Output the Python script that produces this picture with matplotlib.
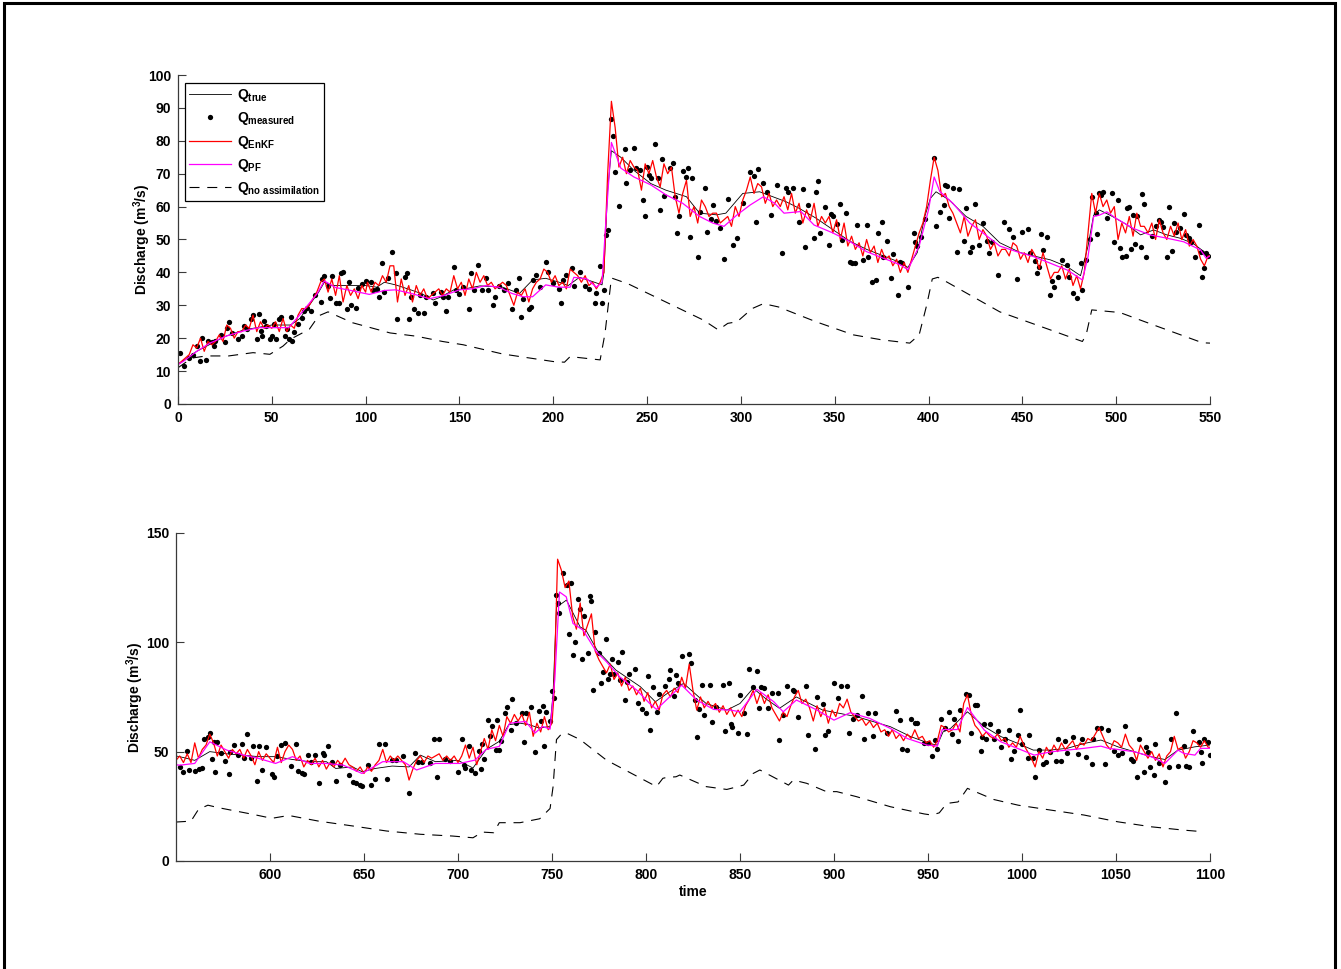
import numpy as np
import matplotlib
matplotlib.use('Agg')
import matplotlib.pyplot as plt
from matplotlib.patches import Rectangle

plt.rcParams['font.family'] = ['Liberation Sans', 'DejaVu Sans']
plt.rcParams['font.weight'] = 'bold'
plt.rcParams['axes.labelweight'] = 'bold'
plt.rcParams['mathtext.fontset'] = 'custom'
plt.rcParams['mathtext.rm'] = 'Liberation Sans:bold'
plt.rcParams['mathtext.it'] = 'Liberation Sans:bold'
plt.rcParams['mathtext.bf'] = 'Liberation Sans:bold'
plt.rcParams['mathtext.default'] = 'rm'

# ---------------- top panel data (time 0-550) ----------------
true_top = [(0,12),(5,14),(10,16),(15,17.5),(20,19),(25,20.5),(30,21.5),(35,22.5),(40,23),(45,23.5),
            (50,24),(55,24),(60,24),(65,26),(70,30),(75,34),(78,37),(82,36),(90,36),(100,36),
            (106,35.5),(110,37),(116,36.2),(124,34.7),(130,33.5),(136,31.6),(140,32.5),(147,34.7),
            (153,35),(161,35.9),(173,35.5),(182,33.6),(189,37.7),(196,38.2),(205,36.7),(208,36),
            (214,38.5),(221,37.2),(226,36.2),(227,40),(229,65),(231,77),(236,75),(243,71),(252,67),
            (260,65),(271,63),(278,58),(287,57.5),(292,58),(301,64),(310,64.5),(317,63),(324,61.5),
            (331,59.5),(340,56.5),(349,53),(358,49.5),(367,47),(376,45),(385,43),(389,41.5),(394,46),
            (398,57),(401,62.5),(404,64.5),(411,62),(420,57),(429,54),(438,49),(449,46),(456,45),
            (465,43.8),(474,41.7),(481,39),(485,48),(488,57.4),(491,59),(498,57),(506,54.4),
            (513,51.4),(520,52.9),(527,51.4),(534,50.4),(541,48.8),(548,45.8),(550,45)]

pf_top = [(0,12),(3,13),(10,16),(17,18.5),(26,20.7),(35,22.2),(43,23.2),(52,23.2),(59,23.2),(66,27.8),
          (74,33.4),(78,37.4),(84,35.4),(93,34.4),(102,33.3),(110,34.5),(116,34.7),(125,33.5),
          (134,32),(142,33),(150,34.7),(157,35),(164,36),(171,35.5),(178,33.6),(184,32.6),(189,32.6),
          (196,36.2),(203,35.5),(209,35.5),(211,38.5),(218,38),(223,35.5),(226,37),(228,55),
          (231,79.5),(236,71.7),(243,69),(252,66.6),(260,63.6),(269,61),(278,57),(285,55),(291,54),
          (298,57.5),(305,60.5),(312,63),(318,61),(323,58),(332,58.5),(339,54.4),(349,52),(358,49.4),
          (367,46.3),(376,44.3),(385,42.3),(389,40.8),(395,48),(400,59),(403,69),(406,64.6),(413,61),
          (422,55),(429,52),(438,48),(447,46.3),(456,44.8),(464,43),(474,40.7),(482,37.7),(485,44.8),
          (488,57),(491,57.4),(495,58.4),(500,56.4),(509,53.4),(518,51.4),(527,50.4),(536,49.3),
          (545,46.8),(548,44.3),(550,45)]

noassim_top = [(0,11),(4,12.6),(8,14),(15,14.6),(27,14.6),(40,15.6),(49,15.1),(56,17.6),(60,19.7),
               (70,22.7),(75,26.8),(80,28),(93,24.7),(113,21.6),(127,20.6),(141,19),(152,18),
               (173,15.2),(200,12.9),(206,12.7),(209,14.4),(225,13.4),(227.6,21.5),(231,38.3),
               (240,36.5),(260,31),(280,25.5),(288,22.5),(293,24.5),(298,25),(306,29),(312,30.5),
               (320,29.5),(340,25),(360,21),(375,19.5),(390,18.5),(395,21),(399,30),(402,38),
               (405,38.5),(410,37),(438,28),(465,22.5),(482,19),(484,21),(487,28.6),(502,27.8),
               (520,24),(546,18.6),(550,18.5)]

# EnKF: even days 0-100, then odd days 101-549, then 550
enkf_top_t = list(range(0, 101, 2)) + list(range(101, 550, 2)) + [550]
enkf_top_q = [12,13,14,15,18,17,20,16,19,18,19,21,19,24,23,20,22,22,24,23,27,22,25,23,24,
              23,25,22,26,22,24,23,27,29,29,30,32,34,37,38,34,38,33,39,31,36,33,35,32,36,34,
              37,34,37,36,39,37,42,42,31,38,33,36,31,36,33,35,32,33,34,35,33,35,34,39,35,
              37,33,38,35,40,37,39,36,37,35,36,37,36,33,30,34,33,35,31,35,37,38,41,40,37,
              39,36,37,35,41,40,39,37,39,36,37,35,37,40,70,92,84,72,75,70,74,72,71,65,73,
              70,74,69,66,73,70,72,63,58,64,68,57,60,55,62,60,57,58,58,55,56,57,54,60,57,
              62,65,69,64,67,66,61,64,60,62,60,63,59,64,58,61,55,59,56,61,54,57,55,57,52,
              56,50,55,48,51,47,49,45,50,46,48,43,47,44,45,42,44,40,43,40,44,48,52,55,60,
              68,75,71,63,64,60,58,55,52,57,51,54,56,50,53,51,47,49,45,47,47,45,49,48,44,
              46,43,47,45,41,46,42,38,40,40,42,38,41,36,39,35,40,52,64,58,64,60,62,58,60,
              50,55,52,57,51,58,54,54,52,55,50,56,52,50,54,51,55,50,53,48,50,48,44,42,45,
              45]

meas_top = [(1,15.4),(3,11.6),(6,14),(8,15),(10,17.6),(12,13),(13,20),(15,13.3),(16,19),(18,18.7),
            (19,17.6),(20,19),(23,21),(25,18.7),(26,23),(27,25),(29,21.7),(32,19.7),(34,20.7),(35,23.7),
            (37,22.7),(39,25.7),(40,27),(42,19.7),(43,27.3),(44,22.3),(45,20.7),(46,25.3),(47,23.7),
            (49,19.7),(50,20.7),(51,24.2),(52,19.6),(54,25.7),(55,26.3),(57,20.7),(58,22.7),(59,19.6),
            (60,26.3),(61,19),(62,22),(64,24.2),(66,26),(67,28.3),(69,29.3),(71,28.3),(73,33),(76,31),
            (77,38),(78,39),(80,36),(81,32.3),(82,39),(84,30.6),(86,30.6),(87,39.7),(88,40),(90,28.8),
            (91,37),(92,30),(95,29.3),(96,35.4),(98,36.4),(100,37.4),
            (103,37.2),(104,34.7),(106,35),(107,32.6),(109,42.8),(110,34),(112,38.2),(114,46.3),
            (116,39.7),(117,25.7),(121,38.7),(122,39.7),(123,25.7),(124,32.6),(126,29),(128,27.6),
            (129,33),(131,27.6),(132,32.6),(136,33.6),(137,30.8),(140,34),(141,32.6),(143,28.3),
            (144,32.6),(147,41.7),(148,34.6),(150,33.4),(152,35.7),(155,28.8),(156,39.7),(158,34.6),
            (160,42.2),(162,34.6),(164,38.2),(165,34.6),(168,30),(169,32.6),(171,36),(174,34.6),
            (176,36.7),(178,28.8),(180,34.6),(182,38.2),(183,26.5),(184,32),(187,29),(188,29.6),
            (189,37.7),(191,39.2),(193,35.7),(196,43.3),(197,40),(200,36.7),(203,35),(204,30.6),
            (205,37.7),(207,39.2),(210,41.2),(211,36),(214,40),(217,36),(219,35),(222,30.8),
            (223,33.6),(225,42),(226,30.8),(227,34.6),(228,51.4),(229,53),
            (231,86.6),(232,81.5),(233,70.4),(235,60.2),(238,77.4),(239,67.1),(241,71.2),(243,77.8),
            (244,71.7),(246,71.2),(248,61.9),(249,57),(250,72),(251,69.6),(252,68.6),(254,79),
            (256,68.6),(257,59),(258,74.4),(259,63.3),(262,71.7),(264,73.2),(265,62.8),(266,51.9),
            (267,57),(269,70.7),(271,69.1),(272,71.7),(273,50.9),(274,68.6),(277,44.8),(278,58.5),
            (281,65.6),(282,52.4),(284,56.2),(285,60.5),(287,55.5),(289,53.4),(291,44),(293,62.2),
            (296,48.4),(298,50.4),(301,61.2),(305,70.4),(307,69.3),(308,55.3),(309,71.4),(312,67.1),
            (314,64.3),(316,57.5),(319,66.6),(322,46),(324,65.8),(325,64.3),(328,65.6),(331,55.2),
            (333,65.3),(334,47.7),(336,60.5),(339,50.4),(340,64.3),(341,67.8),(342,51.9),(345,60),
            (347,48.4),(348,57.8),(349,57.2),(351,54.7),(353,60.8),(354,49.9),(356,58),(358,43.1),
            (359,43),(361,42.8),(362,54.5),(365,43.8),(367,54.5),(368,44.8),(370,37.2),(372,37.7),
            (373,51.9),(375,55.2),(376,44.8),(378,49.4),(380,38.2),(381,45.5),(384,33.2),(385,43.3),
            (386,42.8),(389,35.5),(392,52.1),(393,49.1),(394,47.9),(396,50.9),(398,56.2),(403,74.7),
            (404,54.1),(406,58.5),(408,60.5),(409,66.6),(410,66.2),(411,56.5),(413,65.6),(415,46.2),
            (416,65.3),(419,49.4),(420,59.7),(422,46.3),(423,47.7),(425,60.8),(427,48.4),(429,54.9),
            (431,49.4),(432,46),(434,49.1),(437,39.3),
            (440,55.4),(443,53.1),(445,50.7),(447,37.9),(450,52.4),(453,53.1),(454,45.8),(457,43.5),
            (458,39.9),(459,41.7),(460,51.6),(461,46.8),(463,50.7),(465,33.1),(466,37.4),(467,35.7),
            (469,38.7),(471,43.8),(474,42.3),(475,38.7),(477,33.6),(479,32.3),(481,43),(482,34.6),
            (484,43.8),(486,50.3),(487,63),(489,58),(490,51.7),(491,64),(492,63.5),(493,64.5),
            (495,56.4),(498,64),(499,49.3),(501,62),(502,47.3),(503,44.6),(505,45),(506,59.5),
            (507,59.8),(508,47),(509,57.4),(510,48.6),(511,57.1),(513,47.8),(514,63.8),(515,60.7),
            (516,44.6),(519,51),(521,54.1),(523,55.9),(524,55.4),(525,53.7),(527,44.6),(528,59.8),
            (530,46.6),(531,55.1),(532,52.4),(534,53.4),(536,57.7),(537,51.4),(539,50.4),(540,49.3),
            (542,44.6),(544,54.4),(545,46.3),(546,38.7),(547,41.2),(548,45.8),(549,45)]

# ---------------- bottom panel data (time 550-1100) ----------------
true_bot = [(550,48),(552,47.7),(560,46),(568,50),(577,49),(585,48.4),(594,47.7),(603,47.7),
            (612,46.4),(621,45.4),(630,45.4),(635,42.3),(644,43),(649,40.8),(656,42.3),(665,43.4),
            (674,43),(680,48.4),(688,45.4),(700,46),(708,42.5),(715,51),(722,54.7),(727,62.3),
            (733,63),(738,62.3),(743,60.8),(749,61.5),(750.6,76.7),(752.4,116),(754,117),
            (757.7,119.3),(765,107),(768,105.6),(774,96.4),(784,87.3),(797,79.7),(805,72.8),
            (812,77),(820,81.2),(832,72),(843,69),(850,72),(857,79),(864,74),(871,69.8),(880,75),
            (894,69),(912,66),(930,61.4),(941,56.8),(951,53.7),(955,53),(958,59),(962,60.6),
            (971,68.2),(980,61.4),(989,56.8),(998,53.7),(1006,50.7),(1015,50.7),(1024,51.5),
            (1033,53.7),(1042,55.3),(1051,52.2),(1060,49.9),(1069,47.6),(1076,46.4),(1083,50.7),
            (1092,52.2),(1100,53)]

pf_bot = [(550,44),(552,43.8),(560,44.6),(568,54.5),(577,50.7),(586,48.4),(594,46.9),(603,44.6),
          (612,47.7),(621,44.6),(630,44.6),(639,43.8),(649,40),(660,45.4),(671,45.4),(678,41.6),
          (688,44.6),(701,44.6),(709,46.1),(715,51),(722,52.4),(727.5,63),(736,63.8),(741,58.5),
          (745,61.5),(749,60.3),(751.5,82.8),(754,123),(757.6,120.8),(761.2,108.6),(766.5,105.6),
          (773.6,95.7),(779,91.1),(786,84.2),(795,78.2),(802,72),(805.6,69.3),(814.5,76.6),
          (819,80.4),(827,73.6),(836,69.3),(845,69),(850,68.2),(859,78.5),(868,72.8),(873,68.2),
          (880,73.6),(891,69),(900,64.4),(908.6,67.8),(919,65.2),(930,60.6),(939,56),(949.5,53),
          (955,52.5),(957.6,60.1),(965.6,60.1),(971,70.2),(980,59.8),(988.7,54.5),(997.6,51.5),
          (1006.5,48.4),(1015.4,49.9),(1024,50.7),(1033,51.5),(1042,52.5),(1046,51.5),(1051,51),
          (1060,49.9),(1069,47.6),(1076,44.6),(1083,50.7),(1086,49.2),(1092,48.4),(1095,51.5),
          (1100,51.5)]

noassim_bot = [(550,17.8),(558,18.2),(562,23.6),(567,25.5),(573,24.3),(591,21.3),(601,19.5),
               (610,20.8),(626,18.2),(644,16),(662,13.7),(680,12.2),(697,11.4),(708,10.6),
               (713,13.2),(719,12.9),(722,17.5),(733,17.5),(743.5,19.3),(749,24),(750.6,34),
               (752.4,55.5),(755,58),(757.7,58.5),(765,55.5),(779,46.1),(805.6,34),(809,37.8),
               (811,38.2),(816,38.5),(818,39.3),(832,34),(843,32.7),(852,34.7),(857,40),
               (860.6,41.6),(875.8,34.7),(878.4,37),(885.5,35.5),(896,31.7),(901.5,31.7),
               (912,29.4),(930,24.8),(948,21.5),(952,21),(956,22),(960,26.3),(966,27),(971,33.2),
               (985,28.1),(998,25.5),(1015,23.3),(1033,21),(1051,17.9),(1069,15.6),(1086,14.1),
               (1096,13.4)]

# EnKF: even days 550-750, then odd days 751-1099, then 1100
enkf_bot_t = list(range(550, 751, 2)) + list(range(751, 1100, 2)) + [1100]
enkf_bot_q = [46,48,45,49,45,54,47,51,53,58,54,48,53,50,47,51,49,51,47,51,
              48,44,50,46,49,47,45,52,45,50,53,51,46,48,43,46,44,47,43,46,
              42,45,43,46,44,47,44,43,41,43,40,43,41,44,46,51,45,48,46,48,
              46,44,37,42,46,48,45,48,47,48,49,46,48,46,48,45,48,53,47,52,
              44,50,56,51,60,55,62,57,66,63,67,64,67,62,68,57,63,59,66,60,63,
              75,138,133,125,128,112,106,118,103,108,113,96,92,89,86,90,83,86,80,84,78,80,76,79,73,
              77,70,73,69,76,78,75,79,77,84,79,90,78,69,75,70,73,70,72,68,71,67,70,66,69,
              66,71,74,78,72,77,72,76,70,67,64,68,66,71,75,78,72,74,70,64,71,66,70,63,69,
              66,72,70,74,68,66,64,65,62,64,61,63,59,60,57,60,56,58,55,58,56,60,56,57,54,
              55,52,55,62,61,59,60,63,59,72,76,67,62,60,57,59,57,56,58,55,56,52,54,52,57,
              53,50,47,43,50,47,52,49,53,50,54,51,53,55,51,54,53,56,55,58,61,57,53,51,55,
              54,52,58,53,51,46,53,50,47,50,46,49,43,48,50,57,51,52,47,50,55,54,52,55,52,
              52]

meas_bot = [(552,43.1),(554,40.8),(556,50.4),(557,41.6),(560,41.3),(562,41.9),(564,42.6),(565,56),
            (567,56.8),(568,58.3),(569,46.4),(570,54.5),(571,40.8),(572,54.2),(574,49.2),(576,45.8),
            (578,39.7),(579,50),(581,53),(583,48.4),(585,53.4),(586,46.9),(588,58),(590,46.9),
            (591,52.5),(593,36.7),(594,52.5),(596,41.6),(598,52.2),(601,39.7),(602,38.5),(604,48),
            (606,53),(608,54.1),(611,43.4),(614,53.4),(615,41.3),(617,40.3),(618,39.7),(620,48.4),
            (622,45.4),(624,48.4),(626,35.8),(628,49.2),(629,48.4),(631,52.7),(633,45.4),(635,36.7),
            (637,43.9),(642,39.3),(644,36.2),(646,35.5),(648,34.7),(649,34.2),(652,43.9),(654,34.7),
            (656,37.7),(658,53.4),(661,53.7),(662,37.3),(665,46.1),(667,46.1),(671,48),(674,31.2),
            (677,49.2),(679,45.4),(681,45.4),(685,44.9),(687,55.6),(689,38.5),(690,55.6),(693,46.4),
            (696,45.8),(700,40.8),(702,55.6),(703,43.9),(704,42.3),(706,52.5),(707,41.6),(709,40.3),
            (711,50.2),(712,42.1),(713,53.6),(714,46.4),(716,64.6),(717,57),(718,61.6),(720,50.9),
            (721,64.6),(722,50.9),(723,54.7),(725,67.6),(726,70.4),(728,60),(729,74),(731,63),
            (734,67.6),(735,54.3),(736,67.6),(739,70.4),(741,49.7),(743,68.4),(744,63.8),(745,70.7),
            (746,52.4),(747,67.9),(749,63.8),(750,77.5),
            (751,74.5),(752,121.6),(753,117.8),(754,113.2),(756,131.5),(758,126.2),(759,104),
            (760,127.2),(761,94.2),(762,100.3),(764,119.8),(765,115),(766,92.2),(767,112),(769,95.2),
            (770,121.1),(771,119),(772,78.2),(773,104.8),(775,95.2),(776,81.5),(777,86.5),(779,101.3),
            (780,83),(781,85.5),(782,92.2),(783,85.5),(785,91.1),(786,82.7),(787,95.7),(789,73.6),
            (790,82),(791,85.5),(794,88),(796,72.4),(798,69.3),(800,67.8),(801,84.6),(802,59.9),
            (804,79.7),(806,68.2),(807,76.3),(810,80),(812,83),(813,87.3),(815,75.4),(816,85),
            (817,81.5),(819,93.7),(823,94.6),(824,90.7),(826,73.6),(827,56.5),(828,69.3),(830,80.4),
            (831,66.7),(834,80.4),(835,63.7),(837,70.5),(841,80.4),(842,59.6),(844,81.5),(845,62.6),
            (846,61.4),(849,58.3),(850,75.9),(852,67.8),(854,58),(855,88),(857,79.7),(859,87),
            (860,69.8),(861,79.4),(863,78.9),(865,69.8),(867,76.6),(870,76.9),(871,55.3),(873,66.7),
            (875,80),(878,78.2),(879,77.9),(881,66),(885,80),(886,57.6),(890,51),(891,75.1),(894,72),
            (895,57.6),(897,59.6),(900,81.2),(902,74.3),(904,80),(907,80),(908,58.6),(910,64.7),
            (912,66.7),(915,75.4),(916,56),(918,67.8),(921,57.1),(922,67.8),(928,58.3),(933,68.7),
            (935,64.4),(936,51),(939,50.7),(941,64.7),(943,63.2),(944,62.9),(948,54.1),(950,53.8),
            (952,48),(954,55.3),(955,51),(957,64.7),(959,61),(961,68.2),(963,58),(964,64.7),(966,55),
            (967,69),(970,76.3),(972,75.8),(973,58.6),(975,71.3),(976,71.3),(978,50.4),(979,56.5),
            (980,62.6),(981,55.6),(983,62.6),(985,55.6),(987,59.5),(989,51.9),(991,56),(993,60.1),
            (994,46.4),(996,50.4),(998,57.6),(999,69),(1000,53.7),(1003,47.3),(1004,57.6),(1006,46.9),
            (1007,38.5),(1009,50.7),(1011,44.3),(1013,45.4),(1015,49.9),(1018,45.8),(1019,55.6),
            (1021,45.8),(1023,55),(1024,49.5),(1027,56.5),(1030,48.9),(1032,55.6),(1034,47.6),
            (1037,44.3),(1038,55.6),(1040,61),(1042,61),(1044,44.3),(1046,59.8),(1049,50.4),
            (1051,48.4),(1053,49.2),(1055,61.7),(1058,46.4),(1059,45.8),(1061,38.5),(1062,55.6),
            (1065,40.8),(1066,52.2),(1067,49.9),(1068,43.1),(1070,39.3),(1071,53.4),(1073,44.6),
            (1076,36.2),(1078,43.1),(1079,55.6),(1082,67.5),(1083,43.4),(1086,52.5),(1087,43.4),
            (1089,43.1),(1091,59.5),(1094,54.5),(1095,49.9),(1096,44.6),(1097,56),(1099,54.5),
            (1100,48.4)]

labels = [r'$Q_{true}$', r'$Q_{measured}$', r'$Q_{EnKF}$', r'$Q_{PF}$', r'$Q_{no\ assimilation}$']
axis_col = '#3a3a3a'


def panel(ax, true, meas, et, eq, pf, noas, pad):
    t, q = zip(*true)
    ax.plot(t, q, color='black', lw=0.6, label=labels[0])
    t, q = zip(*meas)
    ax.plot(t, q, 'o', color='black', ms=3.8, mec='none', label=labels[1])
    ax.plot(et, eq, color='#ff0000', lw=0.9, label=labels[2])
    t, q = zip(*pf)
    ax.plot(t, q, color='#ff00ff', lw=0.9, label=labels[3])
    t, q = zip(*noas)
    ax.plot(t, q, color='black', lw=0.8, dashes=(9, 7), label=labels[4])
    for s in ['top', 'right']:
        ax.spines[s].set_visible(False)
    for s in ['left', 'bottom']:
        ax.spines[s].set_color(axis_col)
        ax.spines[s].set_linewidth(0.9)
    ax.tick_params(direction='in', length=6, width=0.8, color=axis_col,
                   labelsize=10, pad=5)
    ax.set_ylabel('Discharge (m$^3$/s)', fontsize=10, labelpad=pad)


fig = plt.figure(figsize=(13.41, 9.69), dpi=100)

ax1 = fig.add_axes([0.1327, 0.5831, 0.7696, 0.3395])
panel(ax1, true_top, meas_top, enkf_top_t, enkf_top_q, pf_top, noassim_top, -4)
ax1.set_xlim(0, 550)
ax1.set_ylim(0, 100)
ax1.set_xticks(np.arange(0, 551, 50))
ax1.set_yticks(np.arange(0, 101, 10))
leg = ax1.legend(loc='upper left', bbox_to_anchor=(0.007, 0.976), borderaxespad=0,
                 fancybox=False, edgecolor='black', fontsize=10, handlelength=3.0,
                 labelspacing=0.45, borderpad=0.3, handletextpad=0.4, numpoints=1,
                 framealpha=1)
leg.get_frame().set_linewidth(0.9)

ax2 = fig.add_axes([0.1312, 0.1115, 0.7711, 0.3385])
panel(ax2, true_bot, meas_bot, enkf_bot_t, enkf_bot_q, pf_bot, noassim_bot, 0)
ax2.set_xlim(550, 1100)
ax2.set_ylim(0, 150)
ax2.set_xticks(np.arange(600, 1101, 50))
ax2.set_yticks([0, 50, 100, 150])
ax2.set_xlabel('time', fontsize=10, labelpad=2)

# figure frame (bottom edge runs off the canvas)
fig.add_artist(Rectangle((3.5 / 1341, -0.05), 1331.5 / 1341, 1.05 - 3.5 / 969,
                         transform=fig.transFigure, fill=False, lw=2.2, ec='black'))

fig.savefig('out.png', dpi=100)
